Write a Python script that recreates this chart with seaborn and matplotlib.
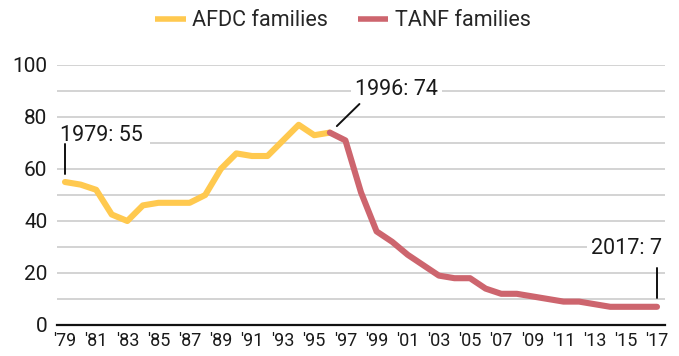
import matplotlib
matplotlib.use("Agg")
import matplotlib.pyplot as plt
from matplotlib.ticker import MultipleLocator, FixedLocator
import seaborn as sns
import pandas as pd

# Families receiving cash assistance per 100 families in poverty
afdc_years = list(range(1979, 1997))
afdc_values = [55, 54, 52, 42.5, 40, 46, 47, 47, 47, 50, 60, 66, 65, 65, 71, 77, 73, 74]

tanf_years = list(range(1996, 2018))
tanf_values = [74, 71, 51, 36, 32, 27, 23, 19, 18, 18, 14, 12, 12, 11, 10, 9, 9, 8, 7, 7, 7, 7]

series_names = ["AFDC families", "TANF families"]
series_colors = ["#FFC94F", "#CD656E"]

major_years = list(range(1979, 2018, 2))
major_labels = ["'" + str(y)[2:] for y in major_years]
minor_years = list(range(1980, 2017, 2))

df = pd.concat([
    pd.DataFrame({"year": afdc_years, "value": afdc_values, "program": series_names[0]}),
    pd.DataFrame({"year": tanf_years, "value": tanf_values, "program": series_names[1]}),
])

sns.set_style("white")
plt.rcParams["font.family"] = ["Roboto", "DejaVu Sans"]

fig = plt.figure(figsize=(6.79, 3.56), dpi=100)
ax = fig.add_axes([57 / 679, 31 / 356, 608 / 679, 260 / 356])

sns.lineplot(data=df, x="year", y="value", hue="program",
             palette=dict(zip(series_names, series_colors)),
             linewidth=4.4, ax=ax, zorder=4, clip_on=False,
             solid_capstyle="round", solid_joinstyle="round")

ax.set_xlim(1979 - 8 / 15.58, 2017 + 8 / 15.58)
ax.set_ylim(0, 100)
ax.set_xlabel("")
ax.set_ylabel("")

# horizontal grid every 10
ax.yaxis.set_major_locator(MultipleLocator(20))
for v in range(10, 101, 10):
    ax.axhline(v, color="#C8C8C8", linewidth=1.1, zorder=1)

for side in ["top", "right", "left"]:
    ax.spines[side].set_visible(False)
ax.spines["bottom"].set_linewidth(1.6)
ax.spines["bottom"].set_color("#111111")
ax.spines["bottom"].set_zorder(5)

ax.xaxis.set_major_locator(FixedLocator(major_years))
ax.set_xticklabels(major_labels)
ax.xaxis.set_minor_locator(FixedLocator(minor_years))
ax.tick_params(axis="x", which="major", direction="in", length=6.5, width=1.3,
               color="#111111", pad=5, labelsize=13, labelcolor="#1a1a1a")
ax.tick_params(axis="x", which="minor", direction="in", length=3, width=1.1,
               color="#111111")
ax.tick_params(axis="y", length=0, pad=7, labelsize=15, labelcolor="#1a1a1a")

# annotations
ax.text(1978.7, 73, "1979: 55", fontsize=15.5, color="#1a1a1a", ha="left", va="center",
        zorder=3, bbox=dict(facecolor="white", edgecolor="none", pad=5))
ax.plot([1979, 1979], [58, 69.5], color="#111111", linewidth=1.4, zorder=3, clip_on=False)

ax.text(1997.6, 90.5, "1996: 74", fontsize=15.5, color="#1a1a1a",
        ha="left", va="center", zorder=3, bbox=dict(facecolor="white", edgecolor="none", pad=3))
ax.plot([1996.45, 1997.9], [76.5, 85], color="#111111", linewidth=1.4, zorder=3)

ax.text(2017.35, 29.5, "2017: 7", fontsize=15.5, color="#1a1a1a",
        ha="right", va="center", zorder=3, bbox=dict(facecolor="white", edgecolor="none", pad=3))
ax.plot([2017, 2017], [10.5, 22], color="#111111", linewidth=1.4, zorder=3, clip_on=False)

sns.move_legend(ax, "upper center", bbox_to_anchor=(343 / 679, 1 - 8 / 356),
                bbox_transform=fig.transFigure, ncol=2, frameon=False, title=None,
                fontsize=15.5, handlelength=1.4, handletextpad=0.3,
                columnspacing=1.4, borderaxespad=0.0, borderpad=0.1)
for line in ax.get_legend().get_lines():
    line.set_linewidth(4.0)
    line.set_solid_capstyle("butt")

fig.savefig("out.png", dpi=100)
